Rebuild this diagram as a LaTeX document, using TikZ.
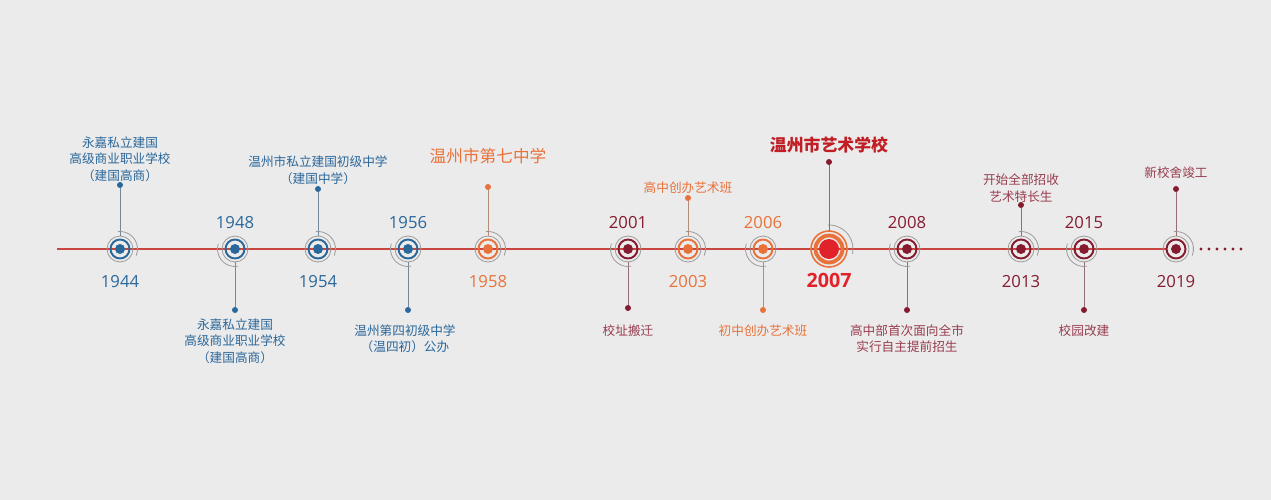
\documentclass[tikz,border=0pt]{standalone}
\usepackage{fontspec}
\setmainfont{Open Sans}
\newfontfamily\cjk{Noto Sans CJK SC}
\usetikzlibrary{positioning}

\definecolor{bg}{HTML}{EBEBEB}
\definecolor{axisred}{HTML}{C8463F}
\definecolor{ringgray}{HTML}{9A9A9A}
\definecolor{tlblue}{HTML}{2A679A}
\definecolor{tlorange}{HTML}{E8723A}
\definecolor{tlwine}{HTML}{861B30}
\definecolor{tlred}{HTML}{E2222A}

\begin{document}
\begin{tikzpicture}[x=0.02cm, y=-0.02cm,
  marker/.style={circle, draw=ringgray, line width=0.45pt, minimum size=0.52cm, inner sep=0pt},
  enddot/.style={circle, inner sep=0pt, minimum size=0.12cm},
  conn/.style={line width=0.5pt},
  yearlabel/.style={inner sep=0pt, font=\fontsize{9.5}{11}\selectfont},
  desc/.style={align=center, inner sep=0pt, font=\cjk\fontsize{7.2}{9.4}\selectfont}]
  % --- canvas (pixel coords, y downwards) ---
  \fill[bg] (0,0) rectangle (1271,500);
  \useasboundingbox (0,0) rectangle (1271,500);
  % --- time axis ---
  \coordinate (axstart) at (57,249);
  \coordinate (axend) at (1166,249);
  \draw[axisred, line width=0.6pt] (axstart) -- (axend);
  \foreach \i in {0,...,5}
    \fill[tlwine] (1201+8*\i,249) circle (1.6);
  % --- milestones: x / year / colour / end dot y / connector up? ---
  \foreach \px/\yr/\col/\dy/\up in {
      120/1944/tlblue/185/1, 235/1948/tlblue/310/0,
      318/1954/tlblue/189/1, 408/1956/tlblue/310/0,
      488/1958/tlorange/187/1, 628/2001/tlwine/308/0,
      688/2003/tlorange/198/1, 763/2006/tlorange/310/0,
      907/2008/tlwine/310/0, 1021/2013/tlwine/205/1,
      1084/2015/tlwine/310/0, 1176/2019/tlwine/189/1} {
    \node[marker] (m\yr) at (\px,249) {};
    \draw[\col, line width=1.1pt] (m\yr) circle (9.5);
    \fill[\col] (m\yr) circle (5);
    \node[enddot, fill=\col] (d\yr) at (\px,\dy) {};
    \draw[conn, \col!35!ringgray] (d\yr) -- (m\yr);
    \ifnum\up=1
      \draw[ringgray, line width=0.45pt] ([shift={(-97:17.5)}]m\yr.center) arc (-97:22:17.5);
      \node[yearlabel, text=\col] (y\yr) at (\px,282) {\yr};
    \else
      \draw[ringgray, line width=0.45pt] ([shift={(-162:17.5)}]m\yr.center) arc (-162:-280:17.5);
      \node[yearlabel, text=\col] (y\yr) at (\px,223) {\yr};
    \fi
  }
  % --- 2007 highlight ---
  \node[circle, minimum size=0.72cm, inner sep=0pt] (m2007) at (829,249) {};
  \draw[ringgray, line width=0.45pt] ([shift={(-93:24)}]m2007.center) arc (-93:12:24);
  \draw[tlorange, line width=0.9pt] (m2007) circle (18);
  \draw[tlorange, line width=2.2pt] (m2007) circle (13.5);
  \fill[tlred] (m2007) circle (10);
  \node[enddot, fill=tlwine] (d2007) at (829,162) {};
  \draw[conn, tlred!60!ringgray] (d2007) -- (m2007);
  \node[inner sep=0pt, text=tlred, font=\fontsize{11.2}{13}\selectfont\bfseries] (y2007) at (829,280) {2007};
  % --- events ---
  \node[desc, text=tlblue, above=0cm of d1944] (t1944) {永嘉私立建国\\高级商业职业学校\\（建国高商）};
  \node[desc, text=tlblue, below=0.1cm of d1948] (t1948) {永嘉私立建国\\高级商业职业学校\\（建国高商）};
  \node[desc, text=tlblue, above=0.02cm of d1954] (t1954) {温州市私立建国初级中学\\（建国中学）};
  \node[desc, text=tlblue, below=0.22cm of d1956, xshift=-0.06cm] (t1956) {温州第四初级中学\\（温四初）公办};
  \node[inner sep=0pt, text=tlorange, font=\cjk\fontsize{9.5}{11}\selectfont, above=0.38cm of d1958] (t1958) {温州市第七中学};
  \node[desc, text=tlwine!85!white, below=0.26cm of d2001] (t2001) {校址搬迁};
  \node[desc, text=tlorange, above=0.02cm of d2003] (t2003) {高中创办艺术班};
  \node[desc, text=tlorange, below=0.22cm of d2006] (t2006) {初中创办艺术班};
  \node[inner sep=0pt, text=tlred!85!black, font=\cjk\fontsize{9.6}{11}\selectfont\bfseries, above=0.1cm of d2007] (t2007) {温州市艺术学校};
  \node[desc, text=tlwine!85!white, below=0.22cm of d2008] (t2008) {高中部首次面向全市\\实行自主提前招生};
  \node[desc, text=tlwine!85!white, above=-0.02cm of d2013] (t2013) {开始全部招收\\艺术特长生};
  \node[desc, text=tlwine!85!white, below=0.22cm of d2015] (t2015) {校园改建};
  \node[desc, text=tlwine!85!white, above=0.14cm of d2019] (t2019) {新校舍竣工};
\end{tikzpicture}
\end{document}
